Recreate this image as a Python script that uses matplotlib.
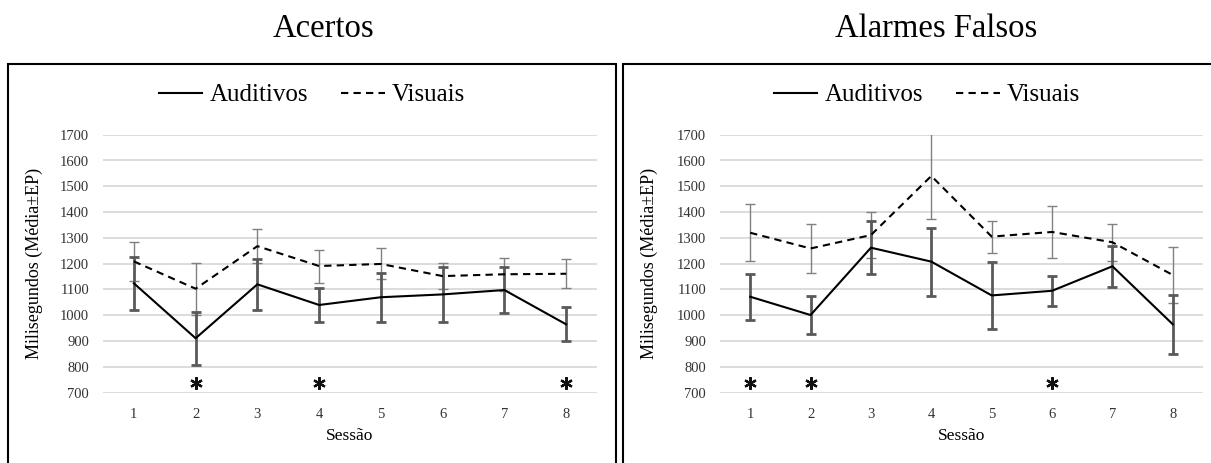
import matplotlib.pyplot as plt
from matplotlib.patches import Rectangle

plt.rcParams['font.family'] = ['Liberation Serif', 'DejaVu Serif']

sessions = [1, 2, 3, 4, 5, 6, 7, 8]

# Acertos
hit_aud = [1124, 911, 1120, 1040, 1070, 1081, 1098, 965]
hit_aud_ep = [103, 103, 100, 67, 95, 107, 90, 66]
hit_vis = [1209, 1103, 1268, 1191, 1199, 1152, 1159, 1161]
hit_vis_ep = [77, 100, 66, 64, 60, 50, 64, 57]
hit_stars = [2, 4, 8]

# Alarmes Falsos
fa_aud = [1072, 1001, 1262, 1208, 1077, 1095, 1190, 965]
fa_aud_ep = [90, 75, 102, 132, 129, 58, 80, 115]
fa_vis = [1320, 1259, 1311, 1540, 1305, 1323, 1283, 1156]
fa_vis_ep = [110, 96, 90, 168, 62, 102, 72, 110]
fa_stars = [1, 2, 6]
star_level = 738

W, H = 1211, 463
fig = plt.figure(figsize=(W / 100, H / 100), dpi=100)


def panel(left, width, aud, aud_ep, vis, vis_ep, stars, title, box, title_x):
    ax = fig.add_axes([left / W, (H - 392.7) / H, width / W, 258 / H])
    ax.errorbar(sessions, vis, yerr=vis_ep, fmt='none', ecolor='#808080',
                elinewidth=1.0, capsize=3.5, capthick=1.0, zorder=3)
    ax.errorbar(sessions, aud, yerr=aud_ep, fmt='none', ecolor='#595959',
                elinewidth=2.0, capsize=3.5, capthick=2.0, zorder=3)
    ax.plot(sessions, aud, color='black', lw=1.5, label='Auditivos', zorder=4)
    ax.plot(sessions, vis, color='black', lw=1.5, ls=(0, (3.5, 2.5)),
            label='Visuais', zorder=4)
    # significance marks
    ax.plot(stars, [star_level] * len(stars), ls='none', marker=(6, 2, 0),
            ms=9, mew=1.6, color='#111111', zorder=5)
    ax.set_xlim(0.5, 8.5)
    ax.set_ylim(700, 1700)
    ax.set_yticks(range(700, 1701, 100))
    ax.set_xticks(sessions)
    ax.grid(axis='y', color='#d9d9d9', lw=1.3)
    ax.set_axisbelow(True)
    for sp in ax.spines.values():
        sp.set_visible(False)
    ax.tick_params(length=0, labelsize=10.5, colors='#333333')
    ax.tick_params(axis='y', pad=10)
    ax.tick_params(axis='x', pad=11)
    ax.set_ylabel('Milisegundos (Média±EP)', fontsize=13)
    ax.set_xlabel('Sessão', fontsize=12.5)
    ax.yaxis.set_label_coords((43 + box[0] - 8 - left) / width, 0.5)
    ax.xaxis.set_label_coords(0.5, -0.137)
    ax.legend(loc='center', bbox_to_anchor=((box[0] + box[1]) / 2 / W, (H - 95) / H),
              bbox_transform=fig.transFigure, ncol=2, frameon=False,
              fontsize=18, handlelength=1.75, handletextpad=0.3,
              columnspacing=1.3)
    fig.patches.append(Rectangle((box[0] / W, -0.1), (box[1] - box[0]) / W,
                                 (H - 63.5) / H + 0.1, transform=fig.transFigure,
                                 fill=False, edgecolor='black', lw=1.5))
    fig.text(title_x / W, (H - 37) / H, title, ha='center', va='baseline',
             fontsize=23.5)
    return ax


panel(103, 494, hit_aud, hit_aud_ep, hit_vis, hit_vis_ep, hit_stars,
      'Acertos', (8, 616), 323.5)
panel(720, 483, fa_aud, fa_aud_ep, fa_vis, fa_vis_ep, fa_stars,
      'Alarmes Falsos', (623, 1231), 936.5)

plt.savefig('out.png', dpi=100)
